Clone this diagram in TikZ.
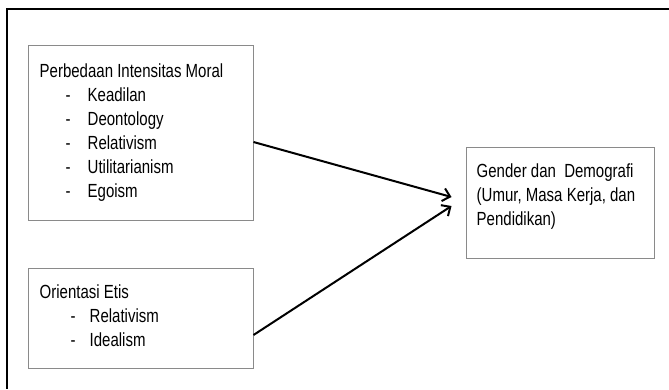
\documentclass[tikz,border=0pt]{standalone}
\usepackage{fontspec}
\setmainfont{Liberation Sans}[FakeStretch=0.79]
\usetikzlibrary{arrows.meta,positioning}
\definecolor{garis}{HTML}{8A8A8A}
\newcommand\butir[3]{\makebox[#1][r]{-\hspace{#2}}#3}
\tikzset{
	%Define standard arrow tip
	>={Straight Barb[length=7pt,width=13pt]},
	%Define style for boxes
	kotak/.style={
		rectangle,
		draw=garis, line width=1pt,
		inner sep=0pt},
	%Define style for the text in the boxes
	teks/.style={
		anchor=north west,
		inner sep=0pt,
		align=left,
		font=\fontsize{19}{24}\selectfont},
	% Define arrow style
	panah/.style={
		->,
		line width=2pt}
}
\begin{document}
\begin{tikzpicture}[x=1pt, y=-1pt]
	\useasboundingbox (0,0) rectangle (669,389);
	
	% outer frame, cut by the page edge
	\draw[line width=2pt] (669,9) -- (7,9) -- (7,389);
	
	\node[kotak, minimum width=225pt, minimum height=175pt] (intensitas) at (140.5,132.5) {};
	\node[kotak, minimum width=225pt, minimum height=100pt] (etis) at (140.5,318) {};
	\node[kotak, minimum width=188pt, minimum height=111pt] (demografi) at (560,202.5) {};
	
	\node[teks] (intensitasteks) at ([xshift=12pt,yshift=-19pt]intensitas.north west) {Perbedaan Intensitas Moral\\
		\butir{48pt}{17pt}{Keadilan}\\
		\butir{48pt}{17pt}{Deontology}\\
		\butir{48pt}{17pt}{Relativism}\\
		\butir{48pt}{17pt}{Utilitarianism}\\
		\butir{48pt}{17pt}{Egoism}};
	\node[teks] (etisteks) at ([xshift=12pt,yshift=-17pt]etis.north west) {Orientasi Etis\\
		\butir{50pt}{14pt}{Relativism}\\
		\butir{50pt}{14pt}{Idealism}};
	\node[teks] (demografiteks) at ([xshift=11pt,yshift=-17pt]demografi.north west) {Gender dan~ Demografi\\
		(Umur, Masa Kerja, dan\\
		Pendidikan)};
	
	\draw[panah] ([yshift=-9.5pt]intensitas.east) -- ([xshift=-14pt,yshift=5.5pt]demografi.west);
	\draw[panah] ([yshift=-17pt]etis.east) -- ([xshift=-14pt,yshift=-3.5pt]demografi.west);
	
\end{tikzpicture}
\end{document}
